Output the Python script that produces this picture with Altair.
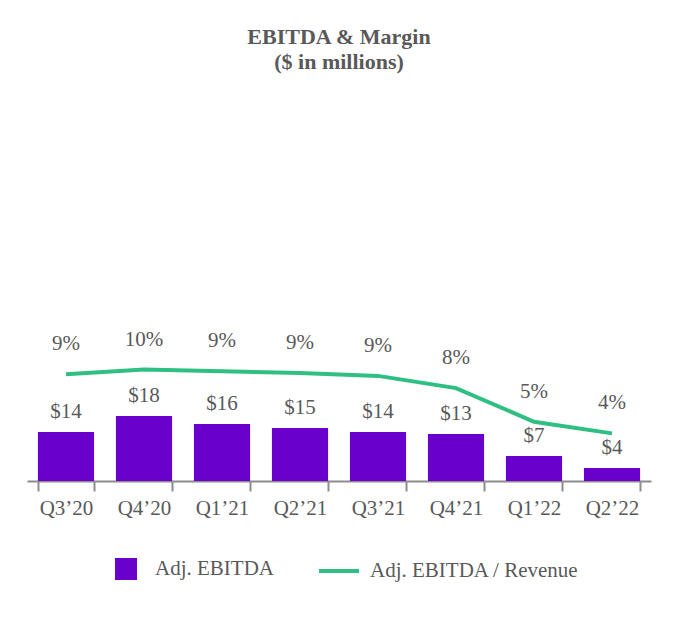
import altair as alt
import pandas as pd

quarters = ["Q3\u201920", "Q4\u201920", "Q1\u201921", "Q2\u201921", "Q3\u201921", "Q4\u201921", "Q1\u201922", "Q2\u201922"]
ebitda = [13.6, 18.0, 15.8, 14.7, 13.6, 13.0, 6.9, 3.6]
ebitda_labels = ["$14", "$18", "$16", "$15", "$14", "$13", "$7", "$4"]
margin = [9.2, 9.6, 9.45, 9.3, 9.05, 8.0, 5.1, 4.1]
margin_labels = ["9%", "10%", "9%", "9%", "9%", "8%", "5%", "4%"]
bar_series = "Adj. EBITDA"
line_series = "Adj. EBITDA / Revenue"

PURPLE = "#6a00cc"
GREEN = "#2fbf83"
TEXT = "#595959"
FONT = "Liberation Serif"

df = pd.DataFrame({
    "quarter": quarters,
    "ebitda": ebitda,
    "ebitda_label": ebitda_labels,
    "margin": margin,
    "margin_label": margin_labels,
    "bar_series": [bar_series] * len(quarters),
    "line_series": [line_series] * len(quarters),
})

base = alt.Chart(df).encode(
    x=alt.X(
        "quarter:N",
        sort=quarters,
        scale=alt.Scale(paddingInner=0.28, paddingOuter=0.14),
        axis=alt.Axis(
            title=None, labelAngle=0, tickBand="extent", tickSize=10,
            tickColor="#8c8c8c", tickWidth=2, domainColor="#8c8c8c", domainWidth=2,
            labelFont=FONT, labelFontSize=21, labelColor=TEXT, labelPadding=6,
        ),
    )
)

ybar = alt.Scale(domain=[0, 91.7])
yline = alt.Scale(domain=[0, 28.5])

bars = base.mark_bar().encode(
    y=alt.Y("ebitda:Q", scale=ybar, axis=None),
    fill=alt.Fill(
        "bar_series:N",
        scale=alt.Scale(domain=[bar_series], range=[PURPLE]),
        legend=alt.Legend(
            title=None, orient="none", legendX=88, legendY=408, padding=0,
            symbolType="square", symbolSize=484, symbolStrokeWidth=0,
            labelFont=FONT, labelFontSize=21, labelColor=TEXT, labelOffset=18,
            labelLimit=0,
        ),
    ),
)

bar_text = base.mark_text(dy=-20, baseline="middle", font=FONT, fontSize=21, color=TEXT).encode(
    y=alt.Y("ebitda:Q", scale=ybar, axis=None),
    text="ebitda_label:N",
)

line = base.mark_line(strokeWidth=4).encode(
    y=alt.Y("margin:Q", scale=yline, axis=None),
    stroke=alt.Stroke(
        "line_series:N",
        scale=alt.Scale(domain=[line_series], range=[GREEN]),
        legend=alt.Legend(
            title=None, orient="none", legendX=290, legendY=399, padding=0,
            symbolType="stroke", symbolSize=1600, symbolStrokeWidth=4,
            labelFont=FONT, labelFontSize=21, labelColor=TEXT, labelOffset=9,
            labelLimit=0,
        ),
    ),
)

line_text = base.mark_text(dy=-30, baseline="middle", font=FONT, fontSize=21, color=TEXT).encode(
    y=alt.Y("margin:Q", scale=yline, axis=None),
    text="margin_label:N",
)

chart = alt.layer(bars, bar_text, line, line_text).resolve_scale(
    y="independent"
).properties(
    width=624,
    height=331,
    autosize=alt.AutoSizeParams(type="none"),
    padding={"left": 19, "top": 142, "right": 21, "bottom": 131},
    title=alt.TitleParams(
        text=["EBITDA & Margin", "($ in millions)"],
        font=FONT, fontSize=22, fontWeight="bold", color=TEXT,
        anchor="middle", offset=76, lineHeight=25,
    ),
).configure_view(stroke=None)

chart.save("out.html", embed_options={"renderer": "svg", "actions": False})
